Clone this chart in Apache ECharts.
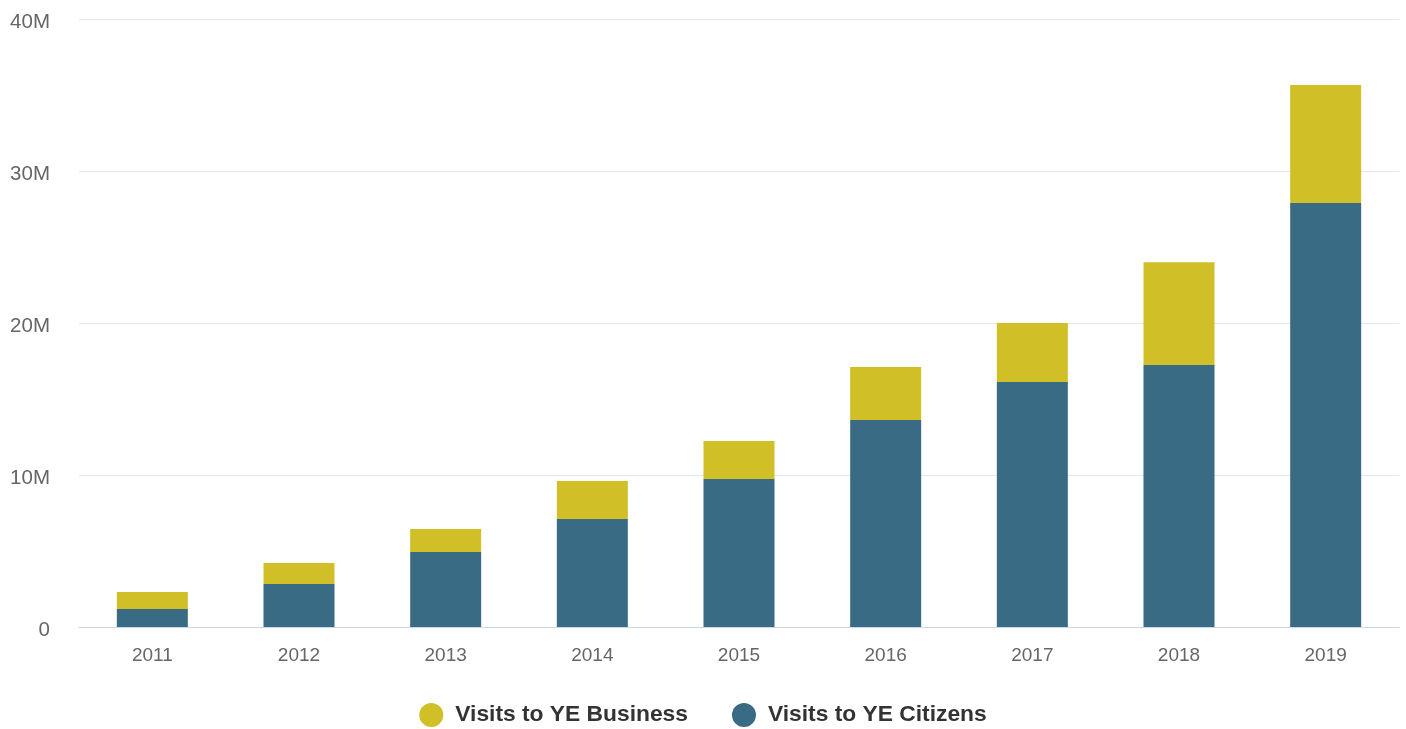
<!DOCTYPE html>
<html><head><meta charset="utf-8">
<script src="https://cdn.jsdelivr.net/npm/echarts@6/dist/echarts.min.js"></script>
<style>html,body{margin:0;padding:0;background:#fff}#c{width:1406px;height:729px}</style>
</head><body><div id="c"></div>
<script>
const categories = ['2011','2012','2013','2014','2015','2016','2017','2018','2019'];
const citizens = [1.18, 2.83, 4.93, 7.1, 9.74, 13.62, 16.12, 17.24, 27.9];
const business = [1.12, 1.38, 1.52, 2.5, 2.5, 3.48, 3.88, 6.76, 7.76];
const yTicks = [0, 10, 20, 30, 40];
const M = 1e6;
const chart = echarts.init(document.getElementById('c'));
chart.setOption({
  animation: false,
  grid: {left: 79, right: 7, top: 19, bottom: 102},
  legend: {
    data: ['Visits to YE Business', 'Visits to YE Citizens'],
    top: 698, left: 'center', icon: 'circle', itemWidth: 24, itemHeight: 24, itemGap: 44,
    textStyle: {fontFamily: 'Liberation Sans, Arial', fontSize: 22.8, fontWeight: 'bold', color: '#333',
      padding: [0, 0, 0, 7]}
  },
  xAxis: {
    type: 'category', data: categories, z: 5,
    axisLine: {lineStyle: {color: '#ccd6eb', width: 1}},
    axisTick: {show: false},
    axisLabel: {fontFamily: 'Liberation Sans, Arial', fontSize: 19, color: '#666', margin: 19}
  },
  yAxis: {
    type: 'value', min: 0, max: 40 * M, interval: 10 * M,
    axisLabel: {fontFamily: 'Liberation Sans, Arial', fontSize: 20.5, color: '#666', margin: 29,
      formatter: v => '{a|' + (v === 0 ? '0' : (v / M) + 'M') + '}',
      rich: {a: {fontFamily: 'Liberation Sans, Arial', fontSize: 20.5, color: '#666', padding: [6, 0, 0, 0]}}},
    splitLine: {showMinLine: false, lineStyle: {color: '#e6e6e6', width: 1}},
    axisLine: {show: false}, axisTick: {show: false}
  },
  series: [
    {name: 'Visits to YE Citizens', type: 'bar', stack: 's', barWidth: 71,
     itemStyle: {color: '#3a6b84'}, data: citizens.map(v => v * M)},
    {name: 'Visits to YE Business', type: 'bar', stack: 's', barWidth: 71,
     itemStyle: {color: '#d1bf28'}, data: business.map(v => v * M)}
  ]
});
</script></body></html>
